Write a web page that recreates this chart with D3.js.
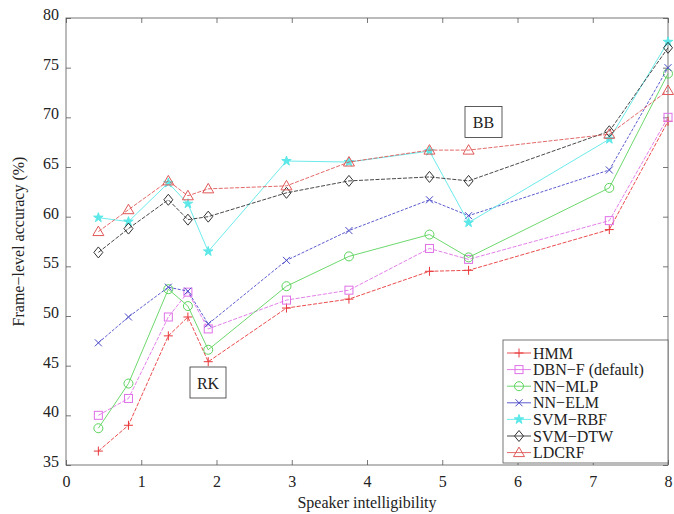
<!DOCTYPE html>
<html>
<head>
<meta charset="utf-8">
<script src="https://cdn.jsdelivr.net/npm/d3@7"></script>
<style>
  body { margin: 0; background: #fff; }
  svg text { font-family: "Liberation Serif", "Times New Roman", "DejaVu Serif", serif; fill: #222; }
</style>
</head>
<body>
<svg id="chart" width="674" height="514"></svg>
<script>
// Speaker intelligibility (x) shared by every series
const xValues = [0.43, 0.83, 1.36, 1.62, 1.89, 2.93, 3.76, 4.83, 5.35, 7.22, 8.0];

// Frame-level accuracy (%) per method
const hmm    = [36.4, 39.0, 48.0, 49.9, 45.4, 50.8, 51.7, 54.5, 54.6, 58.7, 69.6];
const dbnF   = [40.0, 41.7, 49.9, 52.4, 48.7, 51.6, 52.6, 56.8, 55.7, 59.6, 70.0];
const nnMlp  = [38.7, 43.2, 52.7, 51.0, 46.6, 53.0, 56.0, 58.2, 55.9, 62.9, 74.4];
const nnElm  = [47.3, 49.9, 52.9, 52.5, 49.2, 55.6, 58.6, 61.7, 60.1, 64.7, 75.0];
const svmRbf = [59.9, 59.5, 63.4, 61.3, 56.5, 65.6, 65.5, 66.6, 59.4, 67.8, 77.6];
const svmDtw = [56.4, 58.8, 61.7, 59.7, 60.0, 62.4, 63.6, 64.0, 63.6, 68.6, 77.0];
const ldcrf  = [58.5, 60.7, 63.6, 62.1, 62.8, 63.1, 65.5, 66.7, 66.7, 68.3, 72.7];

const seriesNames = ["HMM", "DBN\u2212F (default)", "NN\u2212MLP", "NN\u2212ELM", "SVM\u2212RBF", "SVM\u2212DTW", "LDCRF"];
const seriesValues = [hmm, dbnF, nnMlp, nnElm, svmRbf, svmDtw, ldcrf];
const seriesColors = ["#e8383a", "#e070e8", "#5cd45c", "#4a4ac8", "#5ce8e8", "#333333", "#e05858"];
const seriesMarkers = ["plus", "square", "circle", "cross", "star", "diamond", "triangle"];
const seriesDash = ["4,1.5", "4,1.5", null, "3,1.5", null, "4,1.5", "4,1.5"];

const xTicks = [0, 1, 2, 3, 4, 5, 6, 7, 8];
const yTicks = [35, 40, 45, 50, 55, 60, 65, 70, 75, 80];

const margin = { left: 66, right: 6, top: 18, bottom: 49 };
const width = 674, height = 514;
const svg = d3.select("#chart");

const x = d3.scaleLinear().domain([0, 8]).range([margin.left, width - margin.right]);
const y = d3.scaleLinear().domain([35, 80]).range([height - margin.bottom, margin.top]);

// axes box
svg.append("rect")
    .attr("x", x(0)).attr("y", y(80))
    .attr("width", x(8) - x(0)).attr("height", y(35) - y(80))
    .attr("fill", "none").attr("stroke", "#555").attr("stroke-width", 0.8);

const tickLen = 5;
const xAxis = svg.append("g").attr("transform", `translate(0,${y(35)})`)
    .call(d3.axisBottom(x).tickValues(xTicks).tickSizeInner(-tickLen).tickSizeOuter(0).tickPadding(10));
const xAxisTop = svg.append("g").attr("transform", `translate(0,${y(80)})`)
    .call(d3.axisTop(x).tickValues(xTicks).tickSizeInner(-tickLen).tickSizeOuter(0).tickFormat(""));
const yAxis = svg.append("g").attr("transform", `translate(${x(0)},0)`)
    .call(d3.axisLeft(y).tickValues(yTicks).tickSizeInner(-tickLen).tickSizeOuter(0).tickPadding(7));
const yAxisRight = svg.append("g").attr("transform", `translate(${x(8)},0)`)
    .call(d3.axisRight(y).tickValues(yTicks).tickSizeInner(-tickLen).tickSizeOuter(0).tickFormat(""));

[xAxis, xAxisTop, yAxis, yAxisRight].forEach(g => {
    g.attr("font-family", null);
    g.select(".domain").remove();
    g.selectAll("line").attr("stroke", "#555").attr("stroke-width", 0.8);
    g.selectAll("text").attr("font-size", 16).attr("fill", "#222");
});
yAxis.selectAll("text").attr("dy", "0.1em");
xAxis.selectAll("text").attr("dy", "0.75em");

// axis titles
svg.append("text")
    .attr("x", (x(0) + x(8)) / 2).attr("y", 508)
    .attr("text-anchor", "middle").attr("font-size", 16)
    .text("Speaker intelligibility");
svg.append("text")
    .attr("transform", `translate(24,${(y(35) + y(80)) / 2}) rotate(-90)`)
    .attr("text-anchor", "middle").attr("font-size", 16)
    .text("Frame\u2212level accuracy (%)");

// marker drawing helper
function drawMarker(g, type, cx, cy, color) {
    const s = 4.5;
    if (type === "plus") {
        g.append("path").attr("d", `M${cx - s},${cy}H${cx + s}M${cx},${cy - s}V${cy + s}`)
            .attr("stroke", color).attr("stroke-width", 1).attr("fill", "none");
    } else if (type === "cross") {
        const c = 3.5;
        g.append("path").attr("d", `M${cx - c},${cy - c}L${cx + c},${cy + c}M${cx - c},${cy + c}L${cx + c},${cy - c}`)
            .attr("stroke", color).attr("stroke-width", 1).attr("fill", "none");
    } else if (type === "square") {
        g.append("rect").attr("x", cx - 4).attr("y", cy - 4).attr("width", 8).attr("height", 8)
            .attr("stroke", color).attr("stroke-width", 1).attr("fill", "none");
    } else if (type === "circle") {
        g.append("circle").attr("cx", cx).attr("cy", cy).attr("r", 4.5)
            .attr("stroke", color).attr("stroke-width", 1).attr("fill", "none");
    } else if (type === "diamond") {
        g.append("path").attr("d", `M${cx},${cy - 5.5}L${cx + 4.5},${cy}L${cx},${cy + 5.5}L${cx - 4.5},${cy}Z`)
            .attr("stroke", color).attr("stroke-width", 1).attr("fill", "none");
    } else if (type === "triangle") {
        g.append("path").attr("d", `M${cx},${cy - 5.5}L${cx + 5.5},${cy + 4}L${cx - 5.5},${cy + 4}Z`)
            .attr("stroke", color).attr("stroke-width", 1).attr("fill", "none");
    } else if (type === "star") {
        const sym = d3.symbol().type(d3.symbolStar).size(28);
        g.append("path").attr("d", sym()).attr("transform", `translate(${cx},${cy})`)
            .attr("stroke", color).attr("stroke-width", 1).attr("fill", color);
    }
}

// series lines and markers
const line = d3.line().x((d, i) => x(xValues[i])).y(d => y(d));
seriesValues.forEach((vals, k) => {
    const g = svg.append("g");
    g.append("path").datum(vals)
        .attr("d", line)
        .attr("fill", "none")
        .attr("stroke", seriesColors[k])
        .attr("stroke-width", 0.9)
        .attr("stroke-dasharray", seriesDash[k]);
    vals.forEach((v, i) => drawMarker(g, seriesMarkers[k], x(xValues[i]), y(v), seriesColors[k]));
});

// annotation boxes
function labelBox(text, cx, cy, w, h) {
    svg.append("rect").attr("x", cx - w / 2).attr("y", cy - h / 2)
        .attr("width", w).attr("height", h)
        .attr("fill", "#fff").attr("stroke", "#333").attr("stroke-width", 0.8);
    svg.append("text").attr("x", cx).attr("y", cy + 6)
        .attr("text-anchor", "middle").attr("font-size", 16).text(text);
}
labelBox("BB", 483.5, 122, 37, 31);
labelBox("RK", 208, 382.5, 36, 31);

// legend
const legend = svg.append("g");
legend.append("rect")
    .attr("x", 503).attr("y", 340).attr("width", 165).attr("height", 123)
    .attr("fill", "#fff").attr("stroke", "#555").attr("stroke-width", 0.8);
seriesNames.forEach((name, k) => {
    const ly = 353 + k * 16.6;
    legend.append("line").attr("x1", 507).attr("x2", 531).attr("y1", ly).attr("y2", ly)
        .attr("stroke", seriesColors[k]).attr("stroke-width", 0.9);
    drawMarker(legend, seriesMarkers[k], 519, ly, seriesColors[k]);
    legend.append("text").attr("x", 533).attr("y", ly + 5.5)
        .attr("font-size", 16).text(name);
});
</script>
</body>
</html>
